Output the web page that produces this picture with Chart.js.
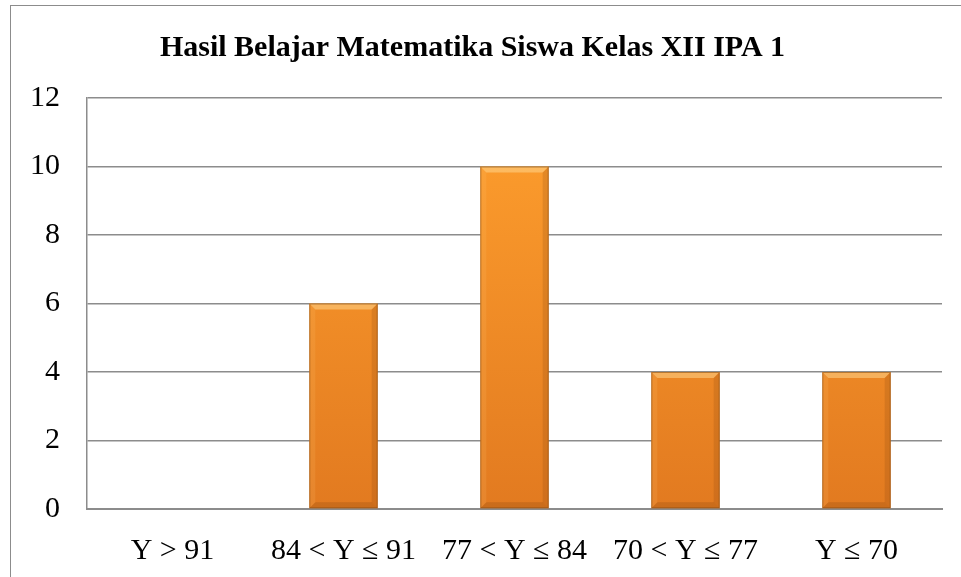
<!DOCTYPE html>
<html>
<head>
<meta charset="utf-8">
<script src="https://cdn.jsdelivr.net/npm/chart.js@4"></script>
<style>
  body { margin: 0; background: #fff; overflow: hidden; }
  #frame { position: absolute; left: 10px; top: 5px; width: 1000px; height: 700px; border: 1px solid #8c8c8c; }
  #wrap { position: absolute; left: 0; top: 0; width: 961px; height: 577px; }
</style>
</head>
<body>
<div id="frame"></div>
<div id="wrap"><canvas id="chart"></canvas></div>
<script>
// datos del grafico
const kategori = ["Y > 91", "84 < Y ≤ 91", "77 < Y ≤ 84", "70 < Y ≤ 77", "Y ≤ 70"];
const jumlahSiswa = [0, 6, 10, 4, 4];
const judul = "Hasil Belajar Matematika Siswa Kelas XII IPA 1";

// relleno naranja con degradado vertical
function gradiente(context) {
  const { chart } = context;
  const area = chart.chartArea;
  if (!area) return "#f68a22";
  const g = chart.ctx.createLinearGradient(0, area.top, 0, area.bottom);
  g.addColorStop(0, "#ffa02e");
  g.addColorStop(1, "#e27a20");
  return g;
}

// efecto bisel en las barras
const bisel = {
  id: "bisel",
  afterDatasetsDraw(chart) {
    const ctx = chart.ctx;
    chart.getDatasetMeta(0).data.forEach((bar) => {
      const { x, y, base, width } = bar.getProps(["x", "y", "base", "width"], true);
      if (base - y < 2) return;
      const l = x - width / 2, r = x + width / 2, b = 6;
      ctx.save();
      // arriba claro
      ctx.fillStyle = "rgba(255,220,150,0.5)";
      ctx.beginPath();
      ctx.moveTo(l, y); ctx.lineTo(r, y); ctx.lineTo(r - b, y + b); ctx.lineTo(l + b, y + b);
      ctx.closePath(); ctx.fill();
      // izquierda
      ctx.fillStyle = "rgba(255,200,120,0.15)";
      ctx.beginPath();
      ctx.moveTo(l, y); ctx.lineTo(l + b, y + b); ctx.lineTo(l + b, base - b); ctx.lineTo(l, base);
      ctx.closePath(); ctx.fill();
      // derecha oscura
      ctx.fillStyle = "rgba(120,60,10,0.18)";
      ctx.beginPath();
      ctx.moveTo(r, y); ctx.lineTo(r - b, y + b); ctx.lineTo(r - b, base - b); ctx.lineTo(r, base);
      ctx.closePath(); ctx.fill();
      // abajo oscura
      ctx.fillStyle = "rgba(120,60,10,0.22)";
      ctx.beginPath();
      ctx.moveTo(l, base); ctx.lineTo(l + b, base - b); ctx.lineTo(r - b, base - b); ctx.lineTo(r, base);
      ctx.closePath(); ctx.fill();
      ctx.strokeStyle = "rgba(140,80,20,0.6)";
      ctx.lineWidth = 1;
      ctx.strokeRect(l + 0.5, y + 0.5, width - 1, base - y - 1);
      ctx.restore();
    });
  },
};

new Chart(document.getElementById("chart"), {
  type: "bar",
  data: {
    labels: kategori,
    datasets: [{ data: jumlahSiswa, backgroundColor: gradiente, borderWidth: 0, categoryPercentage: 1, barPercentage: 0.4 }],
  },
  options: {
    responsive: true,
    maintainAspectRatio: false,
    animation: false,
    layout: { padding: { left: 3, right: 19, top: 30, bottom: -8 } },
    plugins: {
      legend: { display: false },
      tooltip: { enabled: false },
      title: {
        display: true,
        text: judul,
        color: "#000",
        font: { family: "Liberation Serif", size: 30, weight: "bold" },
        padding: { top: 0, bottom: 32 },
      },
    },
    scales: {
      x: {
        grid: { display: false },
        border: { color: "#8c8c8c", width: 2 },
        ticks: { color: "#000", font: { family: "Liberation Serif", size: 30 }, padding: 16 },
      },
      y: {
        min: 0,
        max: 12,
        ticks: { stepSize: 2, color: "#000", font: { family: "Liberation Serif", size: 30 }, padding: 27 },
        grid: { color: "#8c8c8c", lineWidth: 1.5, drawTicks: false },
        border: { color: "#8c8c8c", width: 1.5 },
      },
    },
  },
  plugins: [bisel],
});
</script>
</body>
</html>
